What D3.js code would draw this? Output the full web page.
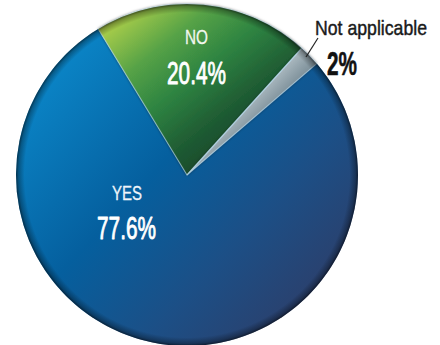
<!DOCTYPE html>
<html><head><meta charset="utf-8">
<script src="https://cdn.jsdelivr.net/npm/d3@7"></script>
<style>html,body{margin:0;padding:0;background:#fff;}svg{display:block;}</style>
</head><body>
<script>
const categories = ["NO", "Not applicable", "YES"];
const values = [20.4, 2, 77.6];
const valueLabels = ["20.4%", "2%", "77.6%"];

const W = 440, H = 345, cx = 187, cy = 175, R = 171;
const startDeg = -31.3;

const svg = d3.select("body").append("svg").attr("width", W).attr("height", H);
const defs = svg.append("defs");

function linGrad(id, x1, y1, x2, y2, stops) {
  const g = defs.append("linearGradient").attr("id", id).attr("gradientUnits", "userSpaceOnUse")
    .attr("x1", x1 - cx).attr("y1", y1 - cy).attr("x2", x2 - cx).attr("y2", y2 - cy);
  stops.forEach(s => g.append("stop").attr("offset", s[0]).attr("stop-color", s[1]));
}
linGrad("gYes", 40, 60, 320, 320, [[0, "#0b88ca"], [0.42, "#055f9e"], [0.7, "#1c4f86"], [1, "#2e3d68"]]);
linGrad("gNo", 115, 15, 235, 165, [[0, "#b2d24a"], [0.28, "#56a246"], [0.5, "#2f8542"], [0.75, "#1f5c33"], [1, "#163f26"]]);
linGrad("gNa", 298, 52, 320, 74, [[0, "#aab8bf"], [0.5, "#889aa3"], [1, "#6d7f8a"]]);

const rim = defs.append("radialGradient").attr("id", "rim").attr("gradientUnits", "userSpaceOnUse")
  .attr("cx", cx).attr("cy", cy).attr("r", R);
rim.append("stop").attr("offset", 0.95).attr("stop-color", "#000").attr("stop-opacity", 0);
rim.append("stop").attr("offset", 0.985).attr("stop-color", "#000").attr("stop-opacity", 0.3);
rim.append("stop").attr("offset", 1).attr("stop-color", "#000").attr("stop-opacity", 0.6);

const sh = defs.append("filter").attr("id", "sh").attr("x", "-20%").attr("y", "-20%").attr("width", "140%").attr("height", "140%");
sh.append("feDropShadow").attr("dx", 0).attr("dy", 0).attr("stdDeviation", 1.5).attr("flood-color", "#000").attr("flood-opacity", 0.6);

const fills = ["url(#gNo)", "url(#gNa)", "url(#gYes)"];
const toRad = d => d * Math.PI / 180;
const pie = d3.pie().sort(null).value(d => d)
  .startAngle(toRad(startDeg)).endAngle(toRad(startDeg) + 2 * Math.PI);
const arcs = pie(values);
const arc = d3.arc().innerRadius(0).outerRadius(R);

const g = svg.append("g").attr("transform", `translate(${cx},${cy})`);
const order = [2, 0, 1];
order.forEach(i => {
  g.append("path").attr("d", arc(arcs[i])).attr("fill", fills[i])
    .attr("filter", i === 2 ? null : "url(#sh)");
});
[0, 1].forEach(i => {
  g.append("path").attr("d", arc(arcs[i])).attr("fill", "none")
    .attr("stroke", "rgba(185,220,240,0.55)").attr("stroke-width", 1.2);
});
svg.append("circle").attr("cx", cx).attr("cy", cy).attr("r", R).attr("fill", "url(#rim)");

const font = "'Liberation Sans', Arial, sans-serif";
function txt(x, y, s, size, width, weight, color, sw) {
  const t = svg.append("text").attr("text-anchor", "middle")
    .attr("font-family", font).attr("font-size", size).attr("font-weight", weight)
    .attr("fill", color).attr("stroke", color).attr("stroke-width", sw)
    .attr("stroke-linejoin", "round").text(s);
  const natural = t.node().getComputedTextLength();
  const k = width / natural;
  t.attr("transform", `translate(${x},${y}) scale(${k},1)`);
}
txt(196.5, 44, categories[0], 19.5, 23, "normal", "#f2f7ee", 0.3);
txt(196.5, 84, valueLabels[0], 32, 59, "normal", "#ffffff", 0.9);
txt(127, 200, categories[2], 20.5, 30, "normal", "#eef4fa", 0.3);
txt(126.5, 239, valueLabels[2], 31, 59, "normal", "#ffffff", 0.9);
txt(371, 35, categories[1], 20.5, 112, "normal", "#1a1a1a", 0.45);
txt(342, 75, valueLabels[1], 33, 30, "bold", "#111111", 0.6);

svg.append("line").attr("x1", 318).attr("y1", 38).attr("x2", 306).attr("y2", 57)
  .attr("stroke", "#222").attr("stroke-width", 1.2);
</script>
</body></html>
